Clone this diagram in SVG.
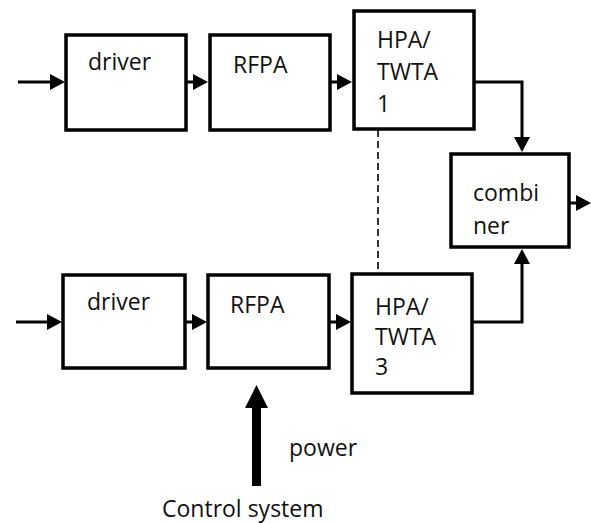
<svg xmlns="http://www.w3.org/2000/svg" width="591" height="523" viewBox="0 0 591 523">
  <style>
    .box { fill: #fff; stroke: #000; stroke-width: 3.5; }
    .wire { fill: none; stroke: #000; stroke-width: 3; marker-end: url(#head); }
    .dash { fill: none; stroke: #000; stroke-width: 1.6; stroke-dasharray: 7 4; }
    text { font-family: "Open Sans", "Liberation Sans", sans-serif; font-size: 23px; fill: #111; }
  </style>
  <defs>
    <marker id="head" viewBox="0 0 15 16" refX="11" refY="8" markerWidth="15" markerHeight="16" markerUnits="userSpaceOnUse" orient="auto">
      <path d="M0,0 L15,8 L0,16 Z" fill="#000"/>
    </marker>
  </defs>

  <!-- upper chain -->
  <g id="driver1">
    <rect class="box" x="66" y="35" width="120" height="95"/>
    <text x="88" y="70">driver</text>
  </g>
  <g id="rfpa1">
    <rect class="box" x="210" y="35" width="120" height="95"/>
    <text x="233" y="73">RFPA</text>
  </g>
  <g id="hpa1">
    <rect class="box" x="354" y="11" width="120" height="118"/>
    <text x="377" y="48">HPA/</text>
    <text x="377" y="80">TWTA</text>
    <text x="377" y="112">1</text>
  </g>

  <!-- combiner -->
  <g id="combiner">
    <rect class="box" x="451" y="154" width="118" height="93"/>
    <text x="473" y="201">combi</text>
    <text x="473" y="234">ner</text>
  </g>

  <!-- lower chain -->
  <g id="driver3">
    <rect class="box" x="63" y="275" width="122" height="93"/>
    <text x="87" y="310">driver</text>
  </g>
  <g id="rfpa3">
    <rect class="box" x="208" y="275" width="121" height="93"/>
    <text x="230" y="313">RFPA</text>
  </g>
  <g id="hpa3">
    <rect class="box" x="352" y="274" width="120" height="119"/>
    <text x="375" y="315">HPA/</text>
    <text x="375" y="345">TWTA</text>
    <text x="375" y="375">3</text>
  </g>

  <!-- power supply labels -->
  <g id="power">
    <text x="289" y="456">power</text>
  </g>
  <g id="control">
    <text x="162" y="517">Control system</text>
  </g>

  <g id="connectors">
    <path class="wire" d="M18,82 H61"/>
    <path class="wire" d="M186,82 H204"/>
    <path class="wire" d="M330,82 H348"/>
    <path class="wire" d="M474,82 H522 V148"/>
    <path class="wire" d="M569,203 H587"/>
    <path class="wire" d="M16,322 H58"/>
    <path class="wire" d="M185,322 H203"/>
    <path class="wire" d="M329,322 H347"/>
    <path class="wire" d="M472,322 H522 V253"/>
    <path class="dash" d="M378,130 V274"/>
    <!-- heavy supply arrow -->
    <rect x="252" y="405" width="9" height="81" fill="#000"/>
    <path d="M245,408 L268,408 L256.5,385 Z" fill="#000"/>
  </g>
</svg>
